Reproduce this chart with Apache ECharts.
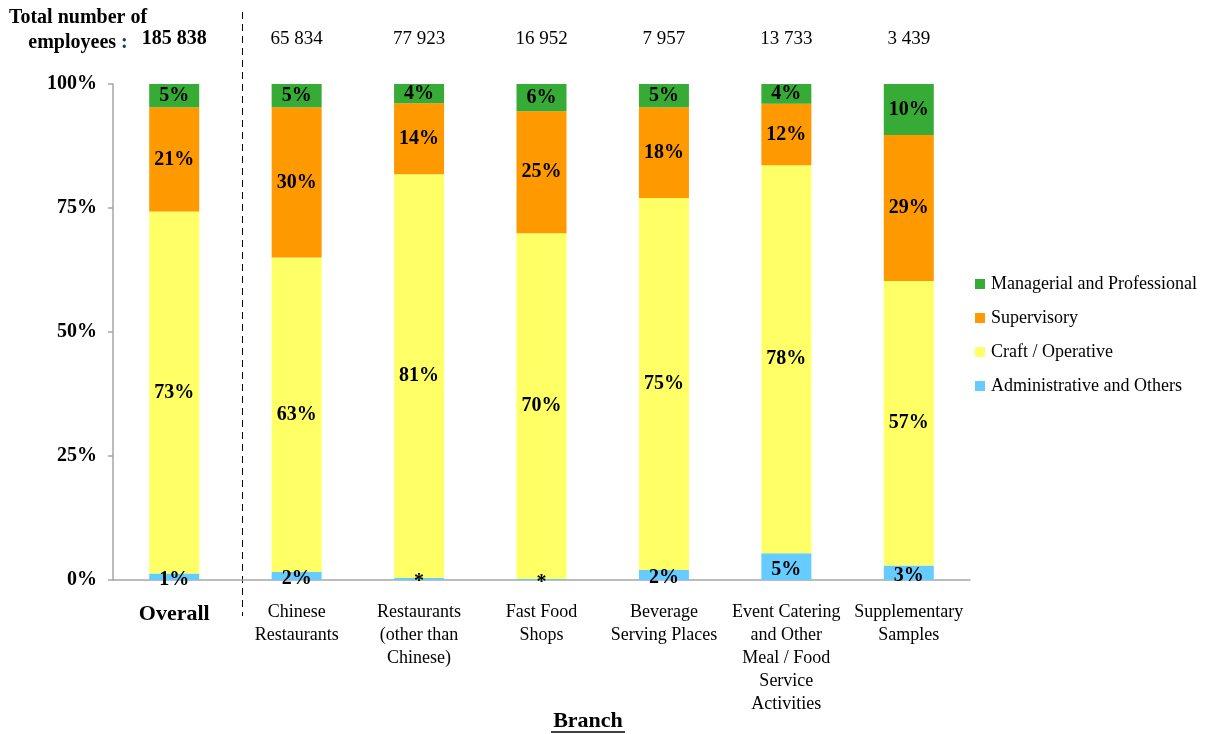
<!DOCTYPE html>
<html>
<head>
<meta charset="utf-8">
<script src="https://cdn.jsdelivr.net/npm/echarts@6/dist/echarts.min.js"></script>
<style>
  html, body { margin: 0; padding: 0; background: #fff; }
  #chart { width: 1215px; height: 734px; }
</style>
</head>
<body>
<div id="chart"></div>
<script>
// Branches and their employee totals
const branches = [
  'Overall',
  'Chinese\nRestaurants',
  'Restaurants\n(other than\nChinese)',
  'Fast Food\nShops',
  'Beverage\nServing Places',
  'Event Catering\nand Other\nMeal / Food\nService\nActivities',
  'Supplementary\nSamples'
];
const totals = ['185 838', '65 834', '77 923', '16 952', '7 957', '13 733', '3 439'];

// Share of employees by occupational level (%)
const administrative = [1.3, 1.6, 0.4, 0.2, 2.0, 5.4, 2.9];
const craftOperative = [73.0, 63.4, 81.4, 69.7, 75.0, 78.2, 57.4];
const supervisory    = [21.0, 30.3, 14.3, 24.6, 18.3, 12.4, 29.4];
const managerial     = [4.7, 4.7, 3.9, 5.5, 4.7, 4.0, 10.3];

const yTicks = ['0%', '25%', '50%', '75%', '100%'];

const SERIF = '"Liberation Serif", "DejaVu Serif", serif';
const COLORS = {
  managerial: '#36ab36',
  supervisory: '#ff9900',
  craft: '#ffff66',
  admin: '#66ccff'
};

const chart = echarts.init(document.getElementById('chart'), null, { renderer: 'canvas' });

function pctLabel(offset) {
  return {
    show: true,
    position: 'inside',
    offset: offset || [0, 0],
    fontFamily: SERIF,
    fontWeight: 'bold',
    fontSize: 20,
    color: '#000',
    formatter: p => (p.value < 0.5 ? '*' : Math.round(p.value) + '%')
  };
}

function barSeries(name, data, color, labelOffset) {
  return {
    name: name,
    type: 'bar',
    stack: 'share',
    barWidth: 50,
    data: data,
    itemStyle: { color: color },
    label: pctLabel(labelOffset),
    emphasis: { disabled: true }
  };
}

const option = {
  animation: false,
  backgroundColor: '#fff',
  textStyle: { fontFamily: SERIF },
  grid: { left: 113, right: 245, top: 84, bottom: 154 },
  legend: {
    orient: 'vertical',
    left: 970,
    top: 270,
    itemWidth: 10,
    itemHeight: 10,
    itemGap: 16,
    icon: 'rect',
    selectedMode: false,
    data: ['Managerial and Professional', 'Supervisory', 'Craft / Operative', 'Administrative and Others'],
    textStyle: { fontFamily: SERIF, fontSize: 18, color: '#000', padding: [0, 0, 0, 1] }
  },
  xAxis: [
    {
      type: 'category',
      data: branches,
      position: 'bottom',
      axisLine: { lineStyle: { color: '#a6a6a6', width: 1.5 } },
      axisTick: { show: false },
      axisLabel: {
        interval: 0,
        margin: 21,
        fontFamily: SERIF,
        fontSize: 18,
        lineHeight: 23,
        color: '#000',
        formatter: (v, i) => (i === 0 ? '{ov|' + v + '}' : v),
        rich: {
          ov: { fontFamily: SERIF, fontSize: 22, fontWeight: 'bold', color: '#000', padding: [3, 0, 0, 0] }
        }
      }
    },
    {
      type: 'category',
      data: totals,
      position: 'top',
      axisLine: { show: false },
      axisTick: { show: false },
      axisLabel: {
        interval: 0,
        margin: 35,
        fontFamily: SERIF,
        fontSize: 19,
        color: '#000',
        formatter: (v, i) => (i === 0 ? '{b|' + v + '}' : v),
        rich: {
          b: { fontFamily: SERIF, fontSize: 20, fontWeight: 'bold', color: '#000' }
        }
      }
    }
  ],
  yAxis: {
    type: 'value',
    min: 0,
    max: 100,
    interval: 25,
    splitLine: { show: false },
    axisLine: { show: true, lineStyle: { color: '#a6a6a6', width: 1.5 } },
    axisTick: { show: true, length: 5, lineStyle: { color: '#a6a6a6', width: 1.5 } },
    axisLabel: {
      margin: 16,
      fontFamily: SERIF,
      fontSize: 20,
      fontWeight: 'bold',
      color: '#000',
      formatter: v => yTicks[Math.round(v / 25)]
    }
  },
  series: [
    barSeries('Administrative and Others', administrative, COLORS.admin, [0, 3]),
    barSeries('Craft / Operative', craftOperative, COLORS.craft),
    barSeries('Supervisory', supervisory, COLORS.supervisory),
    barSeries('Managerial and Professional', managerial, COLORS.managerial)
  ]
};

chart.setOption(option);

// Heading, divider between overall figure and branches, and axis title
function decorate() {
  const p0 = chart.convertToPixel({ xAxisIndex: 0 }, 0);
  const p1 = chart.convertToPixel({ xAxisIndex: 0 }, 1);
  const divX = Math.round(p0 + 0.55 * (p1 - p0)) + 0.5;
  const titleX = 588;
  const headX = 78;

  chart.setOption({
    graphic: [
      {
        type: 'line',
        shape: { x1: divX, y1: 12, x2: divX, y2: 616 },
        style: { stroke: '#000', lineWidth: 1, lineDash: [7, 5] },
        silent: true
      },
      {
        type: 'text',
        x: headX,
        y: 18,
        style: {
          text: 'Total number of',
          font: 'bold 20px ' + SERIF,
          fill: '#000',
          align: 'center',
          verticalAlign: 'middle'
        }
      },
      {
        type: 'text',
        x: headX,
        y: 43,
        style: {
          text: '{e|employees }{c|:}',
          align: 'center',
          verticalAlign: 'middle',
          rich: {
            e: { font: 'bold 20px ' + SERIF, fill: '#000' },
            c: { font: 'bold 20px ' + SERIF, fill: '#1f3864' }
          }
        }
      },
      {
        type: 'text',
        x: titleX,
        y: 721,
        style: {
          text: 'Branch',
          font: 'bold 22px ' + SERIF,
          fill: '#000',
          align: 'center',
          verticalAlign: 'middle'
        }
      },
      {
        type: 'line',
        shape: { x1: titleX - 37, y1: 732, x2: titleX + 37, y2: 732 },
        style: { stroke: '#000', lineWidth: 1.5 }
      }
    ]
  });
}
decorate();
</script>
</body>
</html>
